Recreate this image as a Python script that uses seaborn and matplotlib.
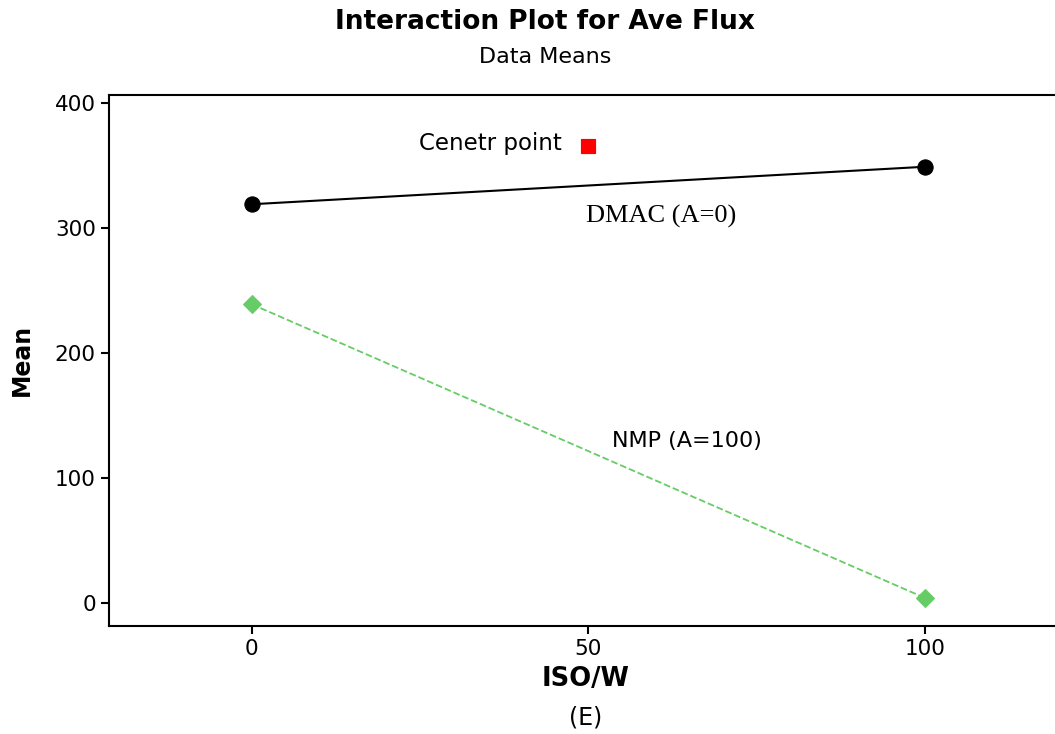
import matplotlib
matplotlib.use('Agg')
import matplotlib.pyplot as plt
import pandas as pd
import seaborn as sns

# data
iso_w = [0, 100]
dmac_means = [319, 349]
nmp_means = [239, 4]
center_x = [50]
center_y = [366]

df = pd.DataFrame({
    'ISO/W': iso_w * 2,
    'Mean': dmac_means + nmp_means,
    'Solvent': ['DMAC'] * 2 + ['NMP'] * 2,
})

sns.set_style('ticks')
plt.rcParams['font.family'] = ['DejaVu Sans']
plt.rcParams['text.color'] = 'black'
plt.rcParams['xtick.color'] = 'black'
plt.rcParams['ytick.color'] = 'black'
plt.rcParams['axes.edgecolor'] = 'black'

fig = plt.figure(figsize=(10.55, 7.34), dpi=100)
ax = fig.add_axes([109 / 1055, 1 - 626 / 734, 1 - 109 / 1055, (626 - 95) / 734])

sns.lineplot(data=df[df['Solvent'] == 'DMAC'], x='ISO/W', y='Mean', color='black',
             marker='o', markersize=11, markeredgecolor='black', linewidth=1.5, ax=ax)
sns.lineplot(data=df[df['Solvent'] == 'NMP'], x='ISO/W', y='Mean', color='#66cc66',
             marker='D', markersize=9, markeredgecolor='#66cc66', linewidth=1.3,
             linestyle='--', ax=ax)
sns.scatterplot(x=center_x, y=center_y, color='red', marker='s', s=110,
                edgecolor='red', ax=ax)

ax.set_xlim(-21.2, 119.3)
ax.set_ylim(-18.4, 406.4)
ax.set_xticks([0, 50, 100])
ax.set_yticks([0, 100, 200, 300, 400])
ax.tick_params(labelsize=15.5, length=6, width=1.5, direction='out', labelcolor='black')
for s in ax.spines.values():
    s.set_linewidth(1.5)
ax.spines['right'].set_visible(False)

ax.set_xlabel('')
ax.set_ylabel('')

ax.text(35.4, 368, 'Cenetr point', fontsize=16.5, ha='center', va='center')
ax.text(60.8, 309, 'DMAC (A=0)', fontsize=19, family='Liberation Serif',
        ha='center', va='center')
ax.text(64.6, 130, 'NMP (A=100)', fontsize=16, ha='center', va='center')

fig.text(545 / 1055, 1 - 22 / 734, 'Interaction Plot for Ave Flux', fontsize=19,
         fontweight='bold', ha='center', va='center')
fig.text(545 / 1055, 1 - 57 / 734, 'Data Means', fontsize=16, ha='center', va='center')
fig.text(586 / 1055, 1 - 679 / 734, 'ISO/W', fontsize=18.5, fontweight='bold',
         ha='center', va='center')
fig.text(586 / 1055, 1 - 717 / 734, '(E)', fontsize=17, ha='center', va='center')
fig.text(22 / 1055, 1 - 360 / 734, 'Mean', fontsize=17, fontweight='bold',
         rotation=90, ha='center', va='center')

fig.savefig('out.png', dpi=100)
